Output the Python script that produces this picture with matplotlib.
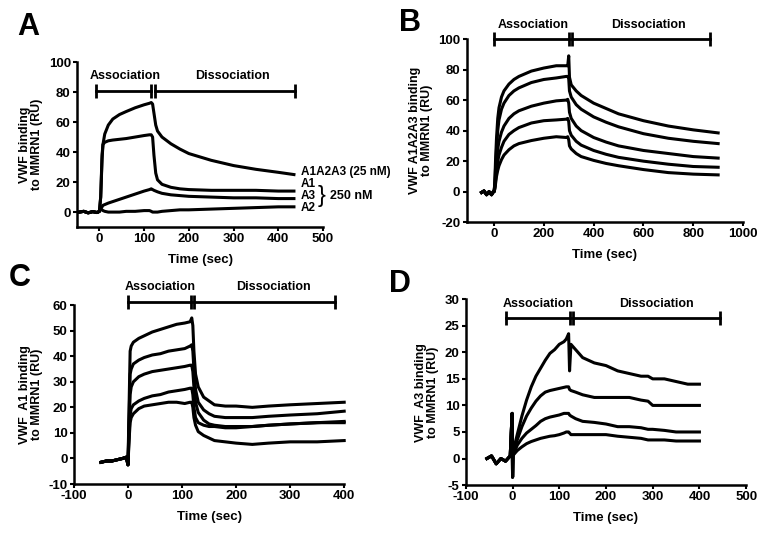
# SPR sensorgrams: VWF domains binding to MMRN1 (four panels)
import matplotlib
matplotlib.use('Agg')
import matplotlib.pyplot as plt

plt.rcParams['font.family'] = ['Liberation Sans', 'DejaVu Sans']
plt.rcParams['font.weight'] = 'bold'
plt.rcParams['font.size'] = 9
plt.rcParams['axes.unicode_minus'] = False

# ---- panel A ----
a_base_t = [-45, -35, -25, -15, -5, 0]
a_base_y = [0, 0.5, -0.5, 0.3, -0.3, 0.5]
a_t = [3, 6, 8, 12, 20, 30, 45, 60, 80, 100, 112, 116, 119, 122, 126, 130,
       140, 160, 180, 200, 250, 300, 350, 400, 435]
a_a1a2a3 = [10, 35, 45, 52, 58, 62, 65, 67, 69.5, 71.5, 72.5, 73, 72, 66, 58, 54,
            50, 45.5, 42, 39, 34.5, 31, 28.5, 26.5, 25]
a_a1 = [10, 38, 45, 46.5, 47.5, 48, 48.5, 49, 50, 51, 51.5, 51.5, 50, 38, 26, 21.5,
        18.5, 16.5, 15.5, 15, 14.5, 14.5, 14.5, 14, 14]
a_a3 = [2, 3.5, 4.5, 5, 6, 7, 8.5, 10, 12, 14, 15, 15.5, 15, 14.5, 14, 13.5,
        12.5, 11.5, 11, 10.5, 10, 9.5, 9.5, 9, 9]
a_a2 = [2, 1.5, 1, 0.5, 0, 0, 0, 0.5, 0.5, 1, 1, 0.5, 0, 0, 0, 0,
        0.5, 1, 1.5, 1.5, 2, 2.5, 3, 3.5, 3.5]
a_names = ['A1A2A3 (25 nM)', 'A1', 'A3', 'A2']
a_label_y = [26.5, 18.5, 10.8, 3]

# ---- panel B ----
b_base_t = [-50, -40, -30, -20, -10, -3, 0]
b_base_y = [-0.5, 0.5, -2, 0, -2, 0, 0]
b_t = [3, 6, 10, 15, 20, 30, 40, 60, 80, 100, 150, 200, 250, 290, 296, 300, 303,
       310, 330, 350, 400, 450, 500, 600, 700, 800, 900]
b_curves = [
    [5, 20, 35, 48, 55, 62, 66, 70.5, 73.5, 75.5, 79, 81, 82.5, 82.5, 82.5, 89, 75,
     70, 66, 63, 58, 54.5, 51, 46.5, 43, 40.5, 38.5],
    [4, 15, 28, 40, 47, 54, 58, 63, 66, 68, 71.5, 73.5, 74.5, 75.5, 75.5, 74, 66,
     62, 57, 54, 49, 45.5, 42.5, 38, 35, 33, 31.5],
    [3, 10, 20, 28, 33, 39, 43, 48, 51, 53, 56, 58, 59.5, 60, 60.5, 58, 52,
     48, 43, 40, 35.5, 32.5, 30, 27, 25, 23, 22],
    [2, 7, 14, 20, 24, 29, 33, 37.5, 40, 42, 45, 46.5, 47, 47.5, 48, 46, 40,
     37, 33, 30.5, 27, 24.5, 22.5, 20, 18, 16.5, 16],
    [1.5, 5, 10, 14, 17, 21, 24, 27.5, 30, 31.5, 33.5, 35, 36, 35.5, 36, 34, 30,
     28, 25, 23, 20.5, 18.5, 17, 14.5, 12.5, 11.5, 11],
]

# ---- panel C ----
c_base_t = [-50, -40, -30, -20, -10, -3, 0]
c_base_y = [-1.5, -1, -1, -0.5, 0, 0.5, -2.5]
c_t = [2, 4, 6, 10, 20, 30, 45, 60, 75, 90, 105, 115, 118, 120, 122, 125, 130,
       140, 150, 160, 180, 200, 230, 260, 300, 350, 400]
c_curves = [
    [20, 42, 44, 45.5, 47, 48, 49.5, 50.5, 51.5, 52.5, 53, 53.5, 55, 52, 42, 33, 28,
     24, 22.5, 21, 20.5, 20.5, 20, 20.5, 21, 21.5, 22],
    [15, 33, 35, 37, 38.5, 39.5, 40.5, 41, 42, 42.5, 43, 44, 44.5, 42, 35, 27, 22,
     19, 17.5, 16.5, 16, 16, 16, 16.5, 17, 17.5, 18.5],
    [12, 25, 28, 30, 32, 33, 34, 34.5, 35, 35.5, 36, 36.5, 36.5, 34, 28, 22, 18,
     15, 13.5, 13, 12.5, 12.5, 12.5, 13, 13.5, 14, 14.5],
    [9, 17, 19.5, 21, 22.5, 23.5, 24.5, 25, 26, 26.5, 27, 27.5, 27.5, 25, 20, 16, 14,
     13, 12.5, 12.5, 12, 12, 12.5, 13, 13.5, 14, 14],
    [7, 14, 16, 17.5, 19.5, 20.5, 21, 21.5, 22, 22, 21.5, 22, 22, 20, 16, 13, 10.5,
     9, 8, 7, 6.5, 6, 5.5, 6, 6.5, 6.5, 7],
]

# ---- panel D ----
d_base_t = [-55, -45, -35, -25, -15, -5, -1, 0, 1]
d_base_y = [0, 0.5, -1, 0, -0.5, 0.5, 8.5, -3.5, 0.5]
d_t = [3, 10, 20, 30, 40, 50, 60, 70, 80, 90, 100, 110, 115, 120, 122, 125, 135,
       150, 175, 200, 225, 250, 275, 290, 300, 325, 350, 375, 400]
d_curves = [
    [2, 4.5, 8, 11, 13.5, 15.5, 17, 18.5, 19.8, 20.5, 21.5, 22, 22.5, 23.5, 16.5,
     21.5, 20.5, 19, 18, 17.5, 16.5, 16, 15.5, 15.5, 15, 15, 14.5, 14, 14],
    [1.5, 3.5, 6, 8, 9.5, 10.8, 11.8, 12.5, 12.8, 13, 13.2, 13.4, 13.5, 13.5, 13,
     12.8, 12.5, 12, 11.5, 11.5, 11.5, 11.5, 11, 10.8, 10, 10, 10, 10, 10],
    [1, 2.5, 3.8, 4.8, 5.5, 6.2, 7, 7.5, 7.8, 8, 8.2, 8.5, 8.5, 8.5, 8.2,
     8, 7.5, 7, 6.8, 6.5, 6, 6, 5.8, 5.5, 5.5, 5.3, 5, 5, 5],
    [0.8, 1.5, 2.2, 2.8, 3.2, 3.5, 3.8, 4, 4.2, 4.3, 4.5, 4.8, 5, 5, 4.8,
     4.5, 4.5, 4.5, 4.5, 4.5, 4.2, 4, 3.8, 3.5, 3.5, 3.5, 3.3, 3.3, 3.3],
]

# phase bars: (assoc start, assoc end, dissoc start, dissoc end, bar y, text y, assoc text x, dissoc text x)
a_phase = (-7, 116, 124, 437, 81, 91, 58, 298)
b_phase = (0, 300, 312, 866, 100, 109, 157, 621)
c_phase = (0.5, 117, 122, 383, 61.3, 67, 59, 269)
d_phase = (-15, 122, 129, 444, 26.5, 29, 55, 307)


def style_axes(ax, xlim, ylim, xticks, yticks, ylabel):
    ax.set_xlim(*xlim)
    ax.set_ylim(*ylim)
    ax.set_xticks(xticks)
    ax.set_yticks(yticks)
    for s in ['top', 'right']:
        ax.spines[s].set_visible(False)
    for s in ['left', 'bottom']:
        ax.spines[s].set_linewidth(1.8)
    ax.tick_params(direction='out', length=3, width=1.5, labelsize=9.5, pad=1.5)
    for lab in ax.get_xticklabels() + ax.get_yticklabels():
        lab.set_fontweight('bold')
    ax.set_xlabel('Time (sec)', fontsize=9.5, fontweight='bold', labelpad=6)
    ax.set_ylabel(ylabel, fontsize=9, fontweight='bold', labelpad=4, linespacing=1.0)


def phase_bar(ax, ph):
    x0, x1, x2, x3, yb, yt, xa, xd = ph
    for xs in ([x0, x1], [x2, x3]):
        ax.plot(xs, [yb, yb], color='k', lw=2, marker='|', ms=10, mew=2,
                clip_on=False)
    ax.text(xa, yt, 'Association', ha='center', va='center', fontsize=9,
            fontweight='bold')
    ax.text(xd, yt, 'Dissociation', ha='center', va='center', fontsize=9,
            fontweight='bold')


def draw_curves(ax, base_t, base_y, t, curves):
    for y in curves:
        ax.plot(base_t + t, base_y + y, color='k', lw=2.2, clip_on=False)


fig = plt.figure(figsize=(7.7, 5.42), dpi=100)

axA = fig.add_axes([0.100, 0.581, 0.3195, 0.3046])
axB = fig.add_axes([0.606, 0.590, 0.359, 0.338])
axC = fig.add_axes([0.096, 0.107, 0.351, 0.330])
axD = fig.add_axes([0.605, 0.105, 0.364, 0.343])

# A
draw_curves(axA, a_base_t, a_base_y, a_t, [a_a1a2a3, a_a1, a_a3, a_a2])
style_axes(axA, (-50, 500), (-10, 100), range(0, 501, 100), range(0, 101, 20),
           'VWF binding\nto MMRN1 (RU)')
phase_bar(axA, a_phase)
for name, yv in zip(a_names, a_label_y):
    axA.text(450, yv, name, ha='left', va='center', fontsize=8.5, fontweight='bold',
             clip_on=False)
axA.text(497, 11, '}', ha='center', va='center', fontsize=17, fontweight='normal',
         family='Liberation Sans')
axA.text(515, 10.5, '250 nM', ha='left', va='center', fontsize=9, fontweight='bold')

# B
draw_curves(axB, b_base_t, b_base_y, b_t, b_curves)
style_axes(axB, (-110, 1000), (-20, 100), range(0, 1001, 200), range(-20, 101, 20),
           'VWF A1A2A3 binding\nto MMRN1 (RU)')
phase_bar(axB, b_phase)

# C
draw_curves(axC, c_base_t, c_base_y, c_t, c_curves)
style_axes(axC, (-100, 400), (-10, 60), range(-100, 401, 100), range(-10, 61, 10),
           'VWF  A1 binding\nto MMRN1 (RU)')
phase_bar(axC, c_phase)

# D
draw_curves(axD, d_base_t, d_base_y, d_t, d_curves)
style_axes(axD, (-100, 500), (-5, 30), range(-100, 501, 100), range(-5, 31, 5),
           'VWF  A3 binding\nto MMRN1 (RU)')
phase_bar(axD, d_phase)

# panel letters
for letter, x, y in [('A', 0.022, 0.978), ('B', 0.518, 0.985),
                     ('C', 0.012, 0.515), ('D', 0.505, 0.503)]:
    fig.text(x, y, letter, fontsize=22, fontweight='bold', va='top', ha='left')

fig.savefig('out.png', dpi=100)
